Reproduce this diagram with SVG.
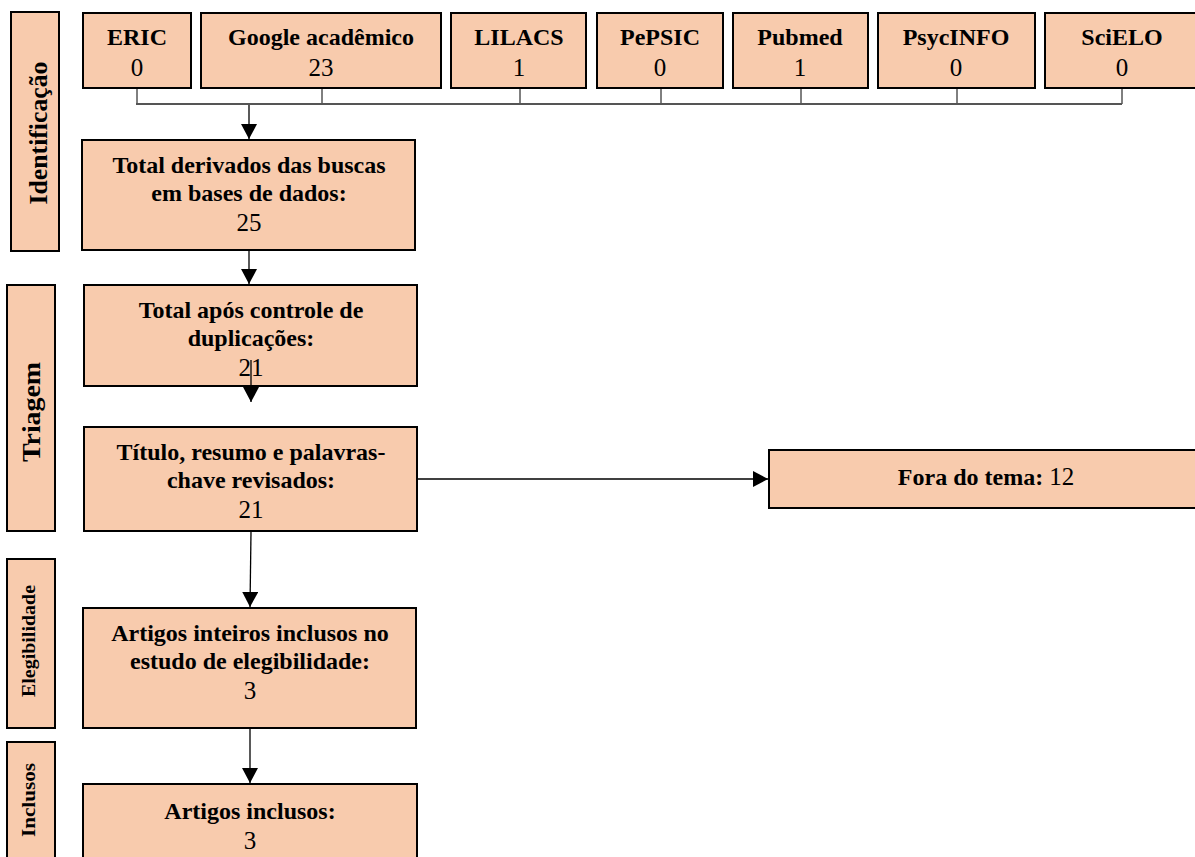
<svg xmlns="http://www.w3.org/2000/svg" width="1195" height="857" viewBox="0 0 1195 857">
<defs>
<style>
.box{fill:#F8CBAD;stroke:#000;stroke-width:2}
.t{font-family:"Liberation Serif","Times New Roman",serif;font-size:24px;fill:#000;text-anchor:middle}
.b{font-weight:bold}
.n{font-size:25px}
.side{font-family:"Liberation Serif","Times New Roman",serif;font-weight:bold;fill:#000;text-anchor:middle}
.ln{fill:none;stroke:#000;stroke-width:1.3}
</style>
<marker id="ah" viewBox="0 0 10 10" refX="10" refY="5" markerWidth="15" markerHeight="16" markerUnits="userSpaceOnUse" orient="auto" preserveAspectRatio="none">
<path d="M0,0 L10,5 L0,10 Z" fill="#000"/>
</marker>
</defs>
<rect width="1195" height="857" fill="#fff"/>

<g id="lbl-identificacao">
<rect class="box" x="11" y="12" width="48" height="239"/>
<text class="side" font-size="25" textLength="143" lengthAdjust="spacingAndGlyphs" transform="translate(47,133) rotate(-90)">Identificação</text>
</g>
<g id="lbl-triagem">
<rect class="box" x="7" y="285" width="48" height="246"/>
<text class="side" font-size="25" textLength="100" lengthAdjust="spacingAndGlyphs" transform="translate(40,412) rotate(-90)">Triagem</text>
</g>
<g id="lbl-elegibilidade">
<rect class="box" x="7" y="559" width="48" height="169"/>
<text class="side" font-size="18" textLength="112" lengthAdjust="spacingAndGlyphs" transform="translate(35,641) rotate(-90)">Elegibilidade</text>
</g>
<g id="lbl-inclusos">
<rect class="box" x="7" y="742" width="48" height="125"/>
<text class="side" font-size="18" textLength="74" lengthAdjust="spacingAndGlyphs" transform="translate(35,800) rotate(-90)">Inclusos</text>
</g>

<g id="n-eric">
<rect class="box" x="83" y="13" width="108" height="75"/>
<text class="t b" x="137" y="45">ERIC</text>
<text class="t n" x="137" y="76">0</text>
</g>
<g id="n-google">
<rect class="box" x="201" y="13" width="240" height="75"/>
<text class="t b" x="321" y="45">Google acadêmico</text>
<text class="t n" x="321" y="76">23</text>
</g>
<g id="n-lilacs">
<rect class="box" x="451" y="13" width="135" height="75"/>
<text class="t b" x="519" y="45">LILACS</text>
<text class="t n" x="519" y="76">1</text>
</g>
<g id="n-pepsic">
<rect class="box" x="597" y="13" width="126" height="75"/>
<text class="t b" x="660" y="45">PePSIC</text>
<text class="t n" x="660" y="76">0</text>
</g>
<g id="n-pubmed">
<rect class="box" x="733" y="13" width="135" height="75"/>
<text class="t b" x="800" y="45">Pubmed</text>
<text class="t n" x="800" y="76">1</text>
</g>
<g id="n-psycinfo">
<rect class="box" x="878" y="13" width="157" height="75"/>
<text class="t b" x="956" y="45">PsycINFO</text>
<text class="t n" x="956" y="76">0</text>
</g>
<g id="n-scielo">
<rect class="box" x="1045" y="13" width="160" height="75"/>
<text class="t b" x="1122" y="45">SciELO</text>
<text class="t n" x="1122" y="76">0</text>
</g>

<g id="n-total-derivados">
<rect class="box" x="82" y="140" width="333" height="110"/>
<text class="t b" x="249" y="173">Total derivados das buscas</text>
<text class="t b" x="249" y="201">em bases de dados:</text>
<text class="t n" x="249" y="231">25</text>
</g>
<g id="n-total-apos">
<rect class="box" x="84" y="285" width="333" height="101"/>
<text class="t b" x="251" y="318">Total após controle de</text>
<text class="t b" x="251" y="346">duplicações:</text>
<text class="t n" x="251" y="376">21</text>
</g>
<g id="n-titulo">
<rect class="box" x="84" y="427" width="333" height="104"/>
<text class="t b" x="251" y="460">Título, resumo e palavras-</text>
<text class="t b" x="251" y="488">chave revisados:</text>
<text class="t n" x="251" y="518">21</text>
</g>
<g id="n-fora">
<rect class="box" x="769" y="450" width="440" height="58"/>
<text class="t" x="986" y="485"><tspan class="b">Fora do tema:</tspan> <tspan font-size="25">12</tspan></text>
</g>
<g id="n-artigos-inteiros">
<rect class="box" x="83" y="608" width="333" height="120"/>
<text class="t b" x="250" y="641">Artigos inteiros inclusos no</text>
<text class="t b" x="250" y="669">estudo de elegibilidade:</text>
<text class="t n" x="250" y="699">3</text>
</g>
<g id="n-artigos-inclusos">
<rect class="box" x="83" y="784" width="334" height="90"/>
<text class="t b" x="250" y="819">Artigos inclusos:</text>
<text class="t n" x="250" y="849">3</text>
</g>

<g id="connectors">
<g stroke="#000" stroke-width="1">
<line x1="137" y1="89" x2="137" y2="104"/>
<line x1="322" y1="89" x2="322" y2="104"/>
<line x1="520" y1="89" x2="520" y2="104"/>
<line x1="661" y1="89" x2="661" y2="104"/>
<line x1="801" y1="89" x2="801" y2="104"/>
<line x1="957" y1="89" x2="957" y2="104"/>
<line x1="1122" y1="89" x2="1122" y2="104"/>
</g>
<line x1="136" y1="104" x2="1122" y2="104" stroke="#555" stroke-width="2"/>
<line class="ln" x1="249" y1="105" x2="249" y2="139" marker-end="url(#ah)"/>
<line class="ln" x1="249" y1="251" x2="249" y2="284" marker-end="url(#ah)"/>
<line class="ln" x1="251" y1="360" x2="251" y2="402" marker-end="url(#ah)"/>
<line class="ln" x1="418" y1="479" x2="768" y2="479" marker-end="url(#ah)"/>
<line class="ln" x1="251" y1="532" x2="250" y2="607" marker-end="url(#ah)"/>
<line class="ln" x1="250" y1="729" x2="250" y2="783" marker-end="url(#ah)"/>
</g>
</svg>
